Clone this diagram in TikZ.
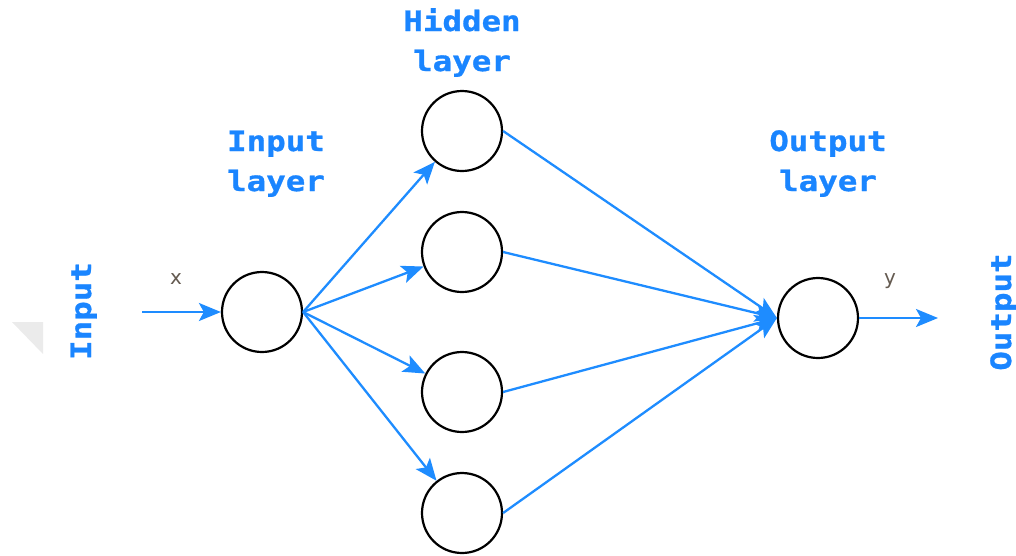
\documentclass[tikz,border=0pt]{standalone}
\usepackage{fontspec}
\setmainfont{DejaVu Sans}
\newfontfamily\labfont[FakeStretch=1.16,FakeBold=1]{DejaVu Sans Mono Bold}
\usetikzlibrary{arrows.meta}
\definecolor{netblue}{RGB}{30,140,255}
\definecolor{txtblue}{RGB}{26,133,255}
\definecolor{smallgray}{RGB}{100,90,80}
\begin{document}
\begin{tikzpicture}[x=1pt,y=-1pt,
  neuron/.style={circle,draw=black,line width=2.2pt,minimum size=80pt,inner sep=0pt},
  conn/.style={draw=netblue,line width=2.3pt,-{Stealth[length=22pt,width=18pt,inset=5pt]}},
  lab/.style={text=txtblue,font=\labfont\fontsize{28}{40}\selectfont,inner sep=0pt,anchor=base},
  small/.style={text=smallgray,font=\fontsize{20}{22}\selectfont,inner sep=0pt,anchor=base}]
\useasboundingbox (0,0) rectangle (1016,555);
\fill[black!8] (12,322) -- (43,322) -- (43,354) -- cycle;
\node[neuron] (in) at (262,312) {};
\node[neuron] (h1) at (462,131) {};
\node[neuron] (h2) at (462,252) {};
\node[neuron] (h3) at (462,392) {};
\node[neuron] (h4) at (462,513) {};
\node[neuron] (out) at (818,318) {};
\coordinate (src) at (142,312);
\coordinate (dst) at (938,318);
\draw[conn] (src) -- (in.west);
\foreach \h in {h1,h2,h3,h4}{
  \draw[conn] (in.east) -- (\h);
  \draw[conn] (\h.east) -- (out.west);
}
\draw[conn] (out.east) -- (dst);
\node[lab] (hl1) at (462,31) {Hidden};
\node[lab] (hl2) at (462,71) {layer};
\node[lab] (il1) at (276,151) {Input};
\node[lab] (il2) at (276,191) {layer};
\node[lab] (ol1) at (828,151) {Output};
\node[lab] (ol2) at (828,191) {layer};
\node[lab,rotate=90] (inl) at (91,311) {Input};
\node[lab,rotate=90] (outl) at (1011,312) {Output};
\node[small] (xl) at (176,284) {x};
\node[small] (yl) at (890,284) {y};
\end{tikzpicture}
\end{document}
